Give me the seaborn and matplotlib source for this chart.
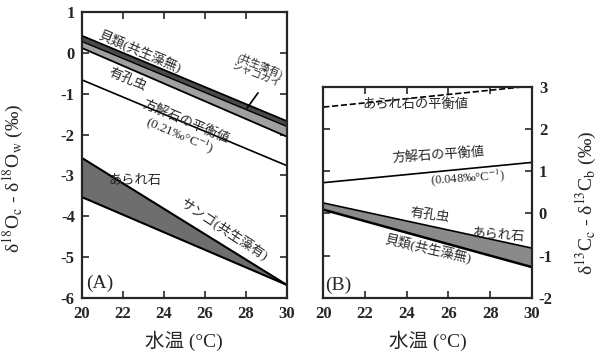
import numpy as np
import pandas as pd
import matplotlib
matplotlib.use('Agg')
import matplotlib.pyplot as plt
import seaborn as sns

# water temperature (degC) at the ends of every line
temp = [20, 30]

# (A) delta18O_c - delta18O_w
shell_top = [0.42, -1.67]        # 貝類(共生藻無) upper edge
shell_mid = [0.28, -1.80]        # boundary with シャコガイ band
giant_clam_bot = [0.12, -2.05]   # シャコガイ lower edge
calcite_o = [-0.66, -2.76]       # 方解石の平衡値 (0.21 per degC)
coral_top = [-2.57, -5.68]       # あられ石 / サンゴ upper edge
coral_bot = [-3.53, -5.68]       # lower edge

# (B) delta13C_c - delta13C_b
aragonite_c = [2.52, 3.02]       # あられ石の平衡値 (dashed)
calcite_c = [0.73, 1.21]         # 方解石の平衡値 (0.048 per degC)
foram_top = [0.25, -0.82]        # 有孔虫 / あられ石 upper edge
shell_bot_c = [0.09, -1.27]      # 貝類 lower edge

xticks = [20, 22, 24, 26, 28, 30]
yticks_a = [-6, -5, -4, -3, -2, -1, 0, 1]
yticks_b = [-2, -1, 0, 1, 2, 3]

sns.set_theme(style='ticks')
plt.rcParams['font.family'] = ['Liberation Serif', 'Noto Sans CJK JP']
plt.rcParams['mathtext.fontset'] = 'stix'
plt.rcParams['axes.unicode_minus'] = False

fig = plt.figure(figsize=(6.1, 3.53), dpi=100)
ax_a = fig.add_axes([0.134, 0.156, 0.336, 0.810])
ax_b = fig.add_axes([0.530, 0.156, 0.342, 0.598])


def line(ax, y, **kw):
    sns.lineplot(x=temp, y=y, ax=ax, color='black', **kw)


# ---- panel A ----
ax_a.fill_between(temp, shell_top, shell_mid, color='#4a4a4a', lw=0)
ax_a.fill_between(temp, shell_mid, giant_clam_bot, color='#a0a0a0', lw=0)
ax_a.fill_between(temp, coral_top, coral_bot, color='#6e6e6e', lw=0)
for y, w in [(shell_top, 1.3), (shell_mid, 1.0), (giant_clam_bot, 1.3),
             (calcite_o, 1.2), (coral_top, 1.5), (coral_bot, 1.5)]:
    line(ax_a, y, lw=w)
ax_a.plot([28.6, 28.07], [-0.98, -1.35], color='black', lw=1.2)

ax_a.set_xlim(20, 30)
ax_a.set_ylim(-6, 1)
ax_a.set_yticks(yticks_a)

fs = 9.5
ax_a.text(22.8, 0.02, '貝類(共生藻無)', rotation=-23, ha='center',
          va='center', fontsize=fs)
ax_a.text(22.25, -0.66, '有孔虫', rotation=-23, ha='center', va='center',
          fontsize=fs)
ax_a.text(28.6, -0.42, '(共生藻有)\nシャコガイ', rotation=-22, ha='center',
          va='center', fontsize=7.5, linespacing=1.0)
ax_a.text(24.9, -1.88, '方解石の平衡値\n(0.21‰°C$^{-1}$)', rotation=-23,
          ha='center', va='center', fontsize=fs, linespacing=1.0)
ax_a.text(22.6, -3.13, 'あられ石', ha='center', va='center', fontsize=fs)
ax_a.text(26.9, -4.33, 'サンゴ(共生藻有)', rotation=-33, ha='center',
          va='center', fontsize=fs)
ax_a.text(20.2, -5.85, '(A)', ha='left', va='bottom', fontsize=14)
ax_a.set_ylabel('δ$^{18}$O$_\\mathrm{c}$ - δ$^{18}$O$_\\mathrm{w}$ (‰)',
                fontsize=14)
ax_a.yaxis.set_label_coords(-0.27, 0.42)

# ---- panel B ----
ax_b.fill_between(temp, foram_top, shell_bot_c, color='#8a8a8a', lw=0)
line(ax_b, aragonite_c, lw=1.2, linestyle='--')
line(ax_b, calcite_c, lw=1.2)
line(ax_b, foram_top, lw=1.2)
line(ax_b, shell_bot_c, lw=1.8)

ax_b.set_xlim(20, 30)
ax_b.set_ylim(-2, 3)
ax_b.set_yticks(yticks_b)
ax_b.yaxis.tick_right()
ax_b.yaxis.set_label_position('right')

ax_b.text(24.4, 2.57, 'あられ石の平衡値', ha='center', va='center',
          fontsize=fs)
ax_b.text(25.5, 1.39, '方解石の平衡値', rotation=4, ha='center',
          va='center', fontsize=fs)
ax_b.text(26.9, 0.84, '(0.048‰°C$^{-1}$)', rotation=4, ha='center',
          va='center', fontsize=9)
ax_b.text(25.1, -0.06, '有孔虫', rotation=-8, ha='center', va='center',
          fontsize=fs)
ax_b.text(28.4, -0.53, 'あられ石', rotation=-4, ha='center', va='center',
          fontsize=fs)
ax_b.text(25.0, -0.86, '貝類(共生藻無)', rotation=-13, ha='center',
          va='center', fontsize=fs)
ax_b.text(20.1, -1.9, '(B)', ha='left', va='bottom', fontsize=14)
ax_b.set_ylabel('δ$^{13}$C$_\\mathrm{c}$ - δ$^{13}$C$_\\mathrm{b}$ (‰)',
                fontsize=14)
ax_b.yaxis.set_label_coords(1.2, 0.45)

for ax in (ax_a, ax_b):
    ax.set_xticks(xticks)
    ax.set_xlabel('水温 (°C)', fontsize=14)
    ax.xaxis.labelpad = 6
    ax.tick_params(direction='in', length=5, width=1.2, labelsize=12,
                   top=True, left=True, right=True)
    ax.tick_params(axis='x', pad=6)
    ax.tick_params(axis='y', pad=5)
    for lab in ax.get_xticklabels() + ax.get_yticklabels():
        lab.set_fontweight('bold')
    for s in ax.spines.values():
        s.set_linewidth(1.6)
        s.set_visible(True)
ax_b.tick_params(labelleft=False, labelright=True)
ax_a.tick_params(labelright=False)

fig.savefig('out.png', dpi=100, facecolor='white')
